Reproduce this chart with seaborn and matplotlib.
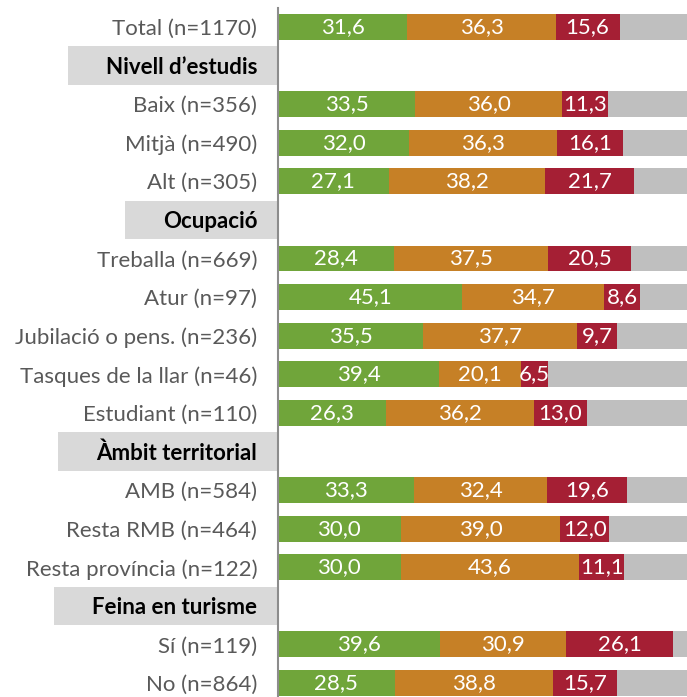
import pandas as pd
import numpy as np
import matplotlib
matplotlib.use('Agg')
import matplotlib.pyplot as plt
import seaborn as sns
from matplotlib.patches import Rectangle

# Row labels, top to bottom (headers have no bars)
labels = ['Total (n=1170)', 'Nivell d\u2019estudis', 'Baix (n=356)', 'Mitjà (n=490)',
          'Alt (n=305)', 'Ocupació', 'Treballa (n=669)', 'Atur (n=97)',
          'Jubilació o pens. (n=236)', 'Tasques de la llar (n=46)', 'Estudiant (n=110)',
          'Àmbit territorial', 'AMB (n=584)', 'Resta RMB (n=464)',
          'Resta província (n=122)', 'Feina en turisme', 'Sí (n=119)', 'No (n=864)']
headers = ['Nivell d\u2019estudis', 'Ocupació', 'Àmbit territorial', 'Feina en turisme']

green = [31.6, 0, 33.5, 32.0, 27.1, 0, 28.4, 45.1, 35.5, 39.4, 26.3, 0, 33.3, 30.0, 30.0, 0, 39.6, 28.5]
orange = [36.3, 0, 36.0, 36.3, 38.2, 0, 37.5, 34.7, 37.7, 20.1, 36.2, 0, 32.4, 39.0, 43.6, 0, 30.9, 38.8]
red = [15.6, 0, 11.3, 16.1, 21.7, 0, 20.5, 8.6, 9.7, 6.5, 13.0, 0, 19.6, 12.0, 11.1, 0, 26.1, 15.7]

df = pd.DataFrame({'label': labels, 'green': green, 'orange': orange, 'red': red})
df['is_header'] = df['label'].isin(headers)
df['c1'] = df['green']
df['c2'] = df['c1'] + df['orange']
df['c3'] = df['c2'] + df['red']
df['c4'] = np.where(df['is_header'], 0, 100)

plt.rcParams['font.family'] = ['Lato', 'DejaVu Sans']

fig = plt.figure(figsize=(6.87, 6.97), dpi=100)
W, H = 687, 697
step = 38.6
top_px = 27 - step / 2
bot_px = 683 + step / 2
ax = fig.add_axes([278 / W, 1 - bot_px / H, 1 - 278 / W, (bot_px - top_px) / H])

# Stacked: draw cumulative widths back to front
layers = [('c4', '#BFBFBF', None), ('c3', '#A51F34', 'red'),
          ('c2', '#C68026', 'orange'), ('c1', '#70A53A', 'green')]
for col, colr, valcol in layers:
    sns.barplot(data=df, x=col, y='label', order=labels, color=colr, saturation=1,
                width=0.67, orient='h', ax=ax, edgecolor='none', linewidth=0)

ax.set_xlim(0, 100)
ax.set_ylim(len(labels) - 0.5, -0.5)
ax.set_xlabel('')
ax.set_ylabel('')
ax.set_xticks([])

# Segment value labels, centred in each segment
for cont, (col, colr, valcol) in zip(ax.containers, layers):
    if valcol is None:
        continue
    for rect, v, c, h in zip(cont.patches, df[valcol], df[col], df['is_header']):
        if h:
            continue
        ax.text(c - v / 2, rect.get_y() + rect.get_height() / 2,
                f'{v:.1f}'.replace('.', ','), ha='center', va='center',
                color='white', fontsize=16)

for s in ['top', 'right', 'bottom']:
    ax.spines[s].set_visible(False)
ax.spines['left'].set_color('#8C8C8C')
ax.spines['left'].set_linewidth(1.5)
ax.tick_params(axis='y', length=0, pad=15)

for tl in ax.get_yticklabels():
    if tl.get_text() in headers:
        tl.set_fontweight('bold')
        tl.set_color('black')
    else:
        tl.set_color('#595959')
    tl.set_fontsize(16)

# Grey boxes behind the section headers
fig.canvas.draw()
renderer = fig.canvas.get_renderer()
for tl in ax.get_yticklabels():
    if tl.get_text() in headers:
        bb = tl.get_window_extent(renderer)
        yc = labels.index(tl.get_text())
        y0 = ax.transData.transform((0, yc + 0.5))[1]
        y1 = ax.transData.transform((0, yc - 0.5))[1]
        x0 = bb.x0 - 38
        x1 = ax.transAxes.transform((0, 0))[0]
        fig.patches.append(Rectangle((x0 / W, y0 / H), (x1 - x0) / W, (y1 - y0) / H,
                                     transform=fig.transFigure, facecolor='#D9D9D9',
                                     edgecolor='none', zorder=-1))

fig.savefig('out.png', dpi=100)
